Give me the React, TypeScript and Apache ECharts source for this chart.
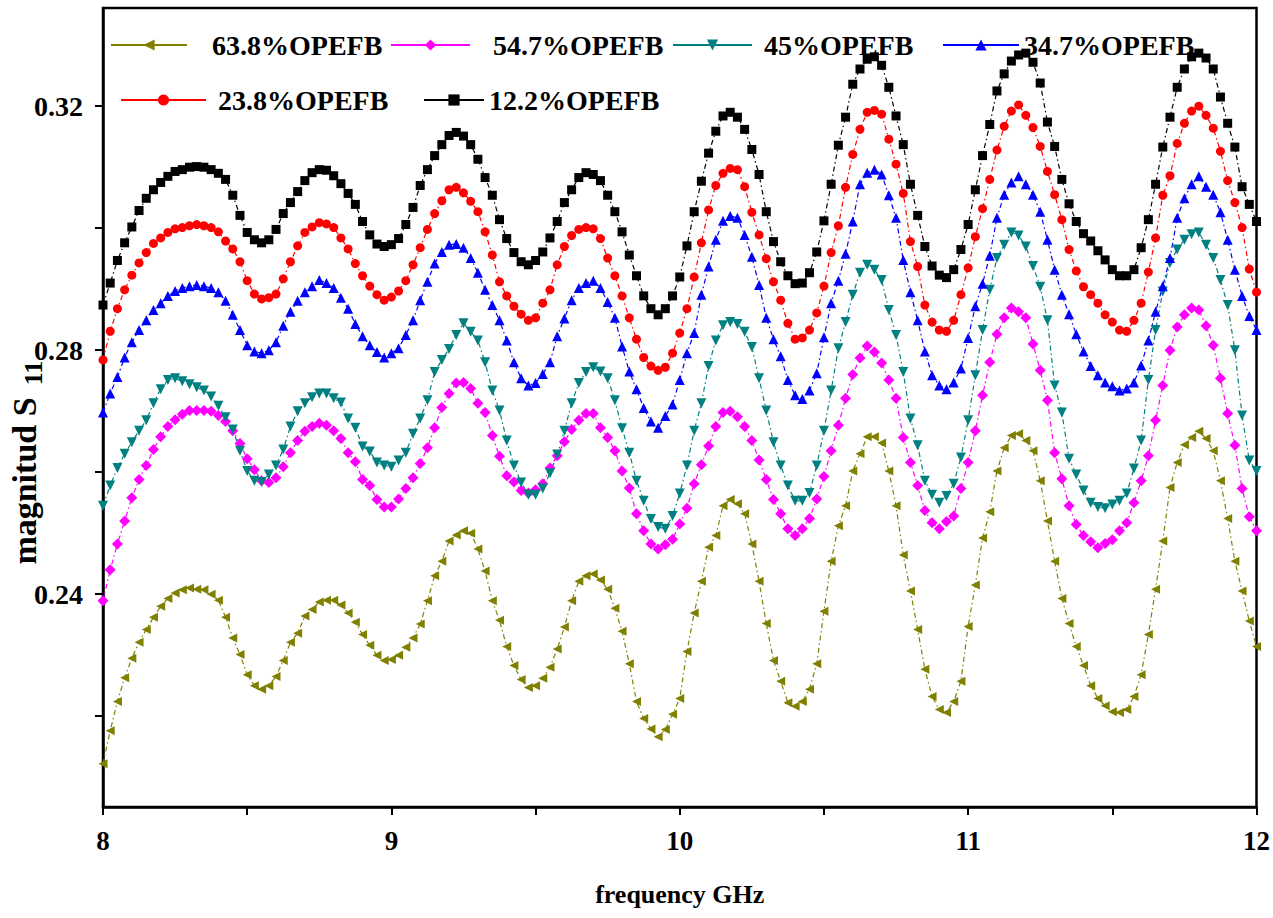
import React, { useEffect, useRef } from "react";
import * as echarts from "echarts";

// frequency grid (GHz), 8 to 12 in 0.025 steps
const freq = Array.from({ length: 161 }, (_, i) => Math.round((8 + i * 0.025) * 1000) / 1000);

const names = ["63.8%OPEFB", "54.7%OPEFB", "45%OPEFB", "34.7%OPEFB", "23.8%OPEFB", "12.2%OPEFB"];

// each row: values at f, f+0.025 for f = 8.00, 8.05, ...
const s638 = [
  0.2122, 0.2176, 0.2224, 0.2263, 0.2295, 0.2321, 0.2342, 0.2362, 0.2380, 0.2393,
  0.2402, 0.2407, 0.2410, 0.2408, 0.2407, 0.2400, 0.2390, 0.2362, 0.2328, 0.2301,
  0.2268, 0.2250, 0.2244, 0.2250, 0.2265, 0.2291, 0.2321, 0.2336, 0.2364, 0.2375,
  0.2387, 0.2390, 0.2390, 0.2382, 0.2369, 0.2354, 0.2334, 0.2316, 0.2300, 0.2291,
  0.2293, 0.2300, 0.2313, 0.2328, 0.2351, 0.2389, 0.2430, 0.2454, 0.2487, 0.2497,
  0.2504, 0.2500, 0.2474, 0.2438, 0.2389, 0.2357, 0.2314, 0.2283, 0.2260, 0.2247,
  0.2250, 0.2262, 0.2280, 0.2310, 0.2346, 0.2389, 0.2421, 0.2430, 0.2433, 0.2423,
  0.2408, 0.2377, 0.2339, 0.2286, 0.2224, 0.2196, 0.2179, 0.2166, 0.2178, 0.2203,
  0.2229, 0.2306, 0.2369, 0.2421, 0.2477, 0.2496, 0.2545, 0.2555, 0.2548, 0.2532,
  0.2482, 0.2421, 0.2352, 0.2291, 0.2257, 0.2222, 0.2216, 0.2224, 0.2244, 0.2286,
  0.2372, 0.2454, 0.2512, 0.2545, 0.2602, 0.2630, 0.2658, 0.2658, 0.2648, 0.2602,
  0.2545, 0.2464, 0.2405, 0.2342, 0.2277, 0.2232, 0.2211, 0.2206, 0.2224, 0.2257,
  0.2347, 0.2415, 0.2492, 0.2535, 0.2602, 0.2640, 0.2660, 0.2663, 0.2652, 0.2635,
  0.2586, 0.2520, 0.2454, 0.2393, 0.2352, 0.2314, 0.2283, 0.2250, 0.2229, 0.2217,
  0.2207, 0.2206, 0.2211, 0.2232, 0.2268, 0.2334, 0.2408, 0.2487, 0.2575, 0.2616,
  0.2645, 0.2657, 0.2667, 0.2655, 0.2635, 0.2586, 0.2524, 0.2454, 0.2405, 0.2356,
  0.2314,
];

const s547 = [
  0.2389, 0.2440, 0.2482, 0.2520, 0.2558, 0.2588, 0.2611, 0.2637, 0.2658, 0.2675,
  0.2686, 0.2695, 0.2701, 0.2701, 0.2701, 0.2700, 0.2693, 0.2683, 0.2668, 0.2647,
  0.2622, 0.2604, 0.2586, 0.2583, 0.2591, 0.2609, 0.2632, 0.2652, 0.2667, 0.2675,
  0.2680, 0.2677, 0.2668, 0.2655, 0.2632, 0.2617, 0.2588, 0.2578, 0.2555, 0.2543,
  0.2543, 0.2556, 0.2573, 0.2591, 0.2614, 0.2640, 0.2673, 0.2706, 0.2729, 0.2746,
  0.2747, 0.2737, 0.2713, 0.2698, 0.2660, 0.2626, 0.2594, 0.2584, 0.2570, 0.2566,
  0.2571, 0.2581, 0.2607, 0.2627, 0.2650, 0.2670, 0.2685, 0.2696, 0.2696, 0.2673,
  0.2657, 0.2635, 0.2602, 0.2574, 0.2532, 0.2504, 0.2482, 0.2474, 0.2481, 0.2490,
  0.2515, 0.2541, 0.2581, 0.2612, 0.2643, 0.2675, 0.2698, 0.2700, 0.2691, 0.2675,
  0.2652, 0.2620, 0.2588, 0.2555, 0.2532, 0.2507, 0.2496, 0.2507, 0.2524, 0.2556,
  0.2593, 0.2635, 0.2677, 0.2721, 0.2760, 0.2787, 0.2807, 0.2797, 0.2779, 0.2751,
  0.2721, 0.2657, 0.2616, 0.2578, 0.2537, 0.2517, 0.2507, 0.2519, 0.2528, 0.2573,
  0.2616, 0.2668, 0.2726, 0.2780, 0.2826, 0.2853, 0.2869, 0.2863, 0.2853, 0.2810,
  0.2767, 0.2718, 0.2632, 0.2589, 0.2545, 0.2514, 0.2496, 0.2486, 0.2476, 0.2483,
  0.2489, 0.2504, 0.2517, 0.2550, 0.2586, 0.2627, 0.2685, 0.2742, 0.2800, 0.2838,
  0.2858, 0.2869, 0.2866, 0.2840, 0.2808, 0.2754, 0.2696, 0.2644, 0.2573, 0.2527,
  0.2504,
];

const s45 = [
  0.2545, 0.2578, 0.2607, 0.2630, 0.2649, 0.2668, 0.2685, 0.2713, 0.2736, 0.2751,
  0.2754, 0.2749, 0.2744, 0.2739, 0.2734, 0.2724, 0.2709, 0.2690, 0.2670, 0.2635,
  0.2602, 0.2586, 0.2584, 0.2596, 0.2611, 0.2637, 0.2675, 0.2700, 0.2713, 0.2723,
  0.2729, 0.2729, 0.2721, 0.2714, 0.2688, 0.2673, 0.2642, 0.2634, 0.2616, 0.2611,
  0.2609, 0.2619, 0.2632, 0.2663, 0.2688, 0.2718, 0.2764, 0.2784, 0.2802, 0.2825,
  0.2844, 0.2830, 0.2816, 0.2780, 0.2734, 0.2701, 0.2652, 0.2611, 0.2583, 0.2563,
  0.2563, 0.2573, 0.2598, 0.2629, 0.2668, 0.2713, 0.2746, 0.2764, 0.2772, 0.2765,
  0.2754, 0.2718, 0.2672, 0.2632, 0.2586, 0.2553, 0.2523, 0.2510, 0.2507, 0.2528,
  0.2565, 0.2611, 0.2668, 0.2713, 0.2774, 0.2816, 0.2841, 0.2846, 0.2843, 0.2830,
  0.2805, 0.2754, 0.2701, 0.2649, 0.2611, 0.2578, 0.2553, 0.2553, 0.2566, 0.2611,
  0.2668, 0.2734, 0.2803, 0.2846, 0.2891, 0.2927, 0.2940, 0.2932, 0.2915, 0.2866,
  0.2825, 0.2764, 0.2688, 0.2644, 0.2586, 0.2563, 0.2550, 0.2561, 0.2581, 0.2624,
  0.2685, 0.2759, 0.2833, 0.2899, 0.2951, 0.2973, 0.2993, 0.2988, 0.2970, 0.2938,
  0.2904, 0.2849, 0.2742, 0.2698, 0.2622, 0.2596, 0.2570, 0.2550, 0.2543, 0.2541,
  0.2547, 0.2553, 0.2565, 0.2606, 0.2652, 0.2751, 0.2833, 0.2896, 0.2943, 0.2965,
  0.2981, 0.2990, 0.2993, 0.2973, 0.2951, 0.2915, 0.2874, 0.2800, 0.2693, 0.2619,
  0.2602,
];

const s347 = [
  0.2698, 0.2729, 0.2756, 0.2788, 0.2813, 0.2833, 0.2849, 0.2866, 0.2877, 0.2889,
  0.2897, 0.2902, 0.2905, 0.2907, 0.2905, 0.2902, 0.2895, 0.2881, 0.2858, 0.2833,
  0.2808, 0.2798, 0.2795, 0.2800, 0.2813, 0.2840, 0.2863, 0.2881, 0.2895, 0.2905,
  0.2915, 0.2910, 0.2902, 0.2886, 0.2868, 0.2843, 0.2823, 0.2808, 0.2797, 0.2788,
  0.2795, 0.2803, 0.2825, 0.2849, 0.2882, 0.2912, 0.2942, 0.2961, 0.2973, 0.2974,
  0.2968, 0.2951, 0.2927, 0.2899, 0.2874, 0.2849, 0.2816, 0.2780, 0.2754, 0.2742,
  0.2746, 0.2761, 0.2780, 0.2823, 0.2852, 0.2882, 0.2902, 0.2910, 0.2914, 0.2902,
  0.2879, 0.2853, 0.2806, 0.2765, 0.2736, 0.2705, 0.2683, 0.2673, 0.2692, 0.2711,
  0.2751, 0.2795, 0.2828, 0.2891, 0.2937, 0.2981, 0.3012, 0.3020, 0.3017, 0.2989,
  0.2953, 0.2907, 0.2853, 0.2818, 0.2790, 0.2751, 0.2726, 0.2720, 0.2734, 0.2762,
  0.2821, 0.2877, 0.2914, 0.2958, 0.3011, 0.3072, 0.3091, 0.3096, 0.3088, 0.3054,
  0.3017, 0.2948, 0.2895, 0.2849, 0.2798, 0.2759, 0.2742, 0.2736, 0.2747, 0.2770,
  0.2820, 0.2872, 0.2909, 0.2955, 0.3017, 0.3055, 0.3075, 0.3085, 0.3072, 0.3055,
  0.3027, 0.2981, 0.2932, 0.2891, 0.2859, 0.2826, 0.2798, 0.2774, 0.2759, 0.2747,
  0.2741, 0.2734, 0.2737, 0.2747, 0.2775, 0.2816, 0.2863, 0.2905, 0.2951, 0.3017,
  0.3049, 0.3072, 0.3085, 0.3068, 0.3055, 0.3026, 0.2981, 0.2932, 0.2889, 0.2856,
  0.2833,
];

const s238 = [
  0.2784, 0.2831, 0.2868, 0.2899, 0.2923, 0.2943, 0.2960, 0.2975, 0.2984, 0.2993,
  0.2999, 0.3001, 0.3004, 0.3006, 0.3004, 0.3001, 0.2994, 0.2979, 0.2966, 0.2945,
  0.2914, 0.2892, 0.2884, 0.2886, 0.2892, 0.2917, 0.2945, 0.2971, 0.2993, 0.3002,
  0.3009, 0.3007, 0.3001, 0.2984, 0.2966, 0.2942, 0.2922, 0.2905, 0.2891, 0.2882,
  0.2887, 0.2897, 0.2914, 0.2940, 0.2968, 0.2998, 0.3024, 0.3045, 0.3063, 0.3067,
  0.3058, 0.3044, 0.3027, 0.2994, 0.2956, 0.2912, 0.2889, 0.2872, 0.2859, 0.2849,
  0.2853, 0.2877, 0.2899, 0.2940, 0.2970, 0.2988, 0.2998, 0.3001, 0.2999, 0.2983,
  0.2951, 0.2922, 0.2889, 0.2853, 0.2818, 0.2788, 0.2774, 0.2767, 0.2772, 0.2795,
  0.2828, 0.2868, 0.2920, 0.2976, 0.3030, 0.3070, 0.3090, 0.3098, 0.3096, 0.3068,
  0.3026, 0.2989, 0.2950, 0.2912, 0.2882, 0.2844, 0.2818, 0.2820, 0.2833, 0.2861,
  0.2905, 0.2960, 0.3004, 0.3067, 0.3121, 0.3162, 0.3190, 0.3193, 0.3187, 0.3146,
  0.3105, 0.3057, 0.2978, 0.2937, 0.2874, 0.2846, 0.2833, 0.2831, 0.2849, 0.2891,
  0.2935, 0.2986, 0.3032, 0.3080, 0.3128, 0.3167, 0.3192, 0.3202, 0.3185, 0.3165,
  0.3134, 0.3093, 0.3055, 0.3014, 0.2965, 0.2930, 0.2904, 0.2891, 0.2877, 0.2858,
  0.2846, 0.2833, 0.2831, 0.2849, 0.2877, 0.2928, 0.2984, 0.3054, 0.3086, 0.3139,
  0.3172, 0.3192, 0.3200, 0.3185, 0.3164, 0.3126, 0.3078, 0.3042, 0.3001, 0.2933,
  0.2895,
];

const s122 = [
  0.2874, 0.2910, 0.2947, 0.2976, 0.3002, 0.3029, 0.3049, 0.3063, 0.3075, 0.3085,
  0.3093, 0.3096, 0.3100, 0.3101, 0.3100, 0.3096, 0.3090, 0.3080, 0.3054, 0.3021,
  0.2993, 0.2981, 0.2976, 0.2981, 0.2998, 0.3024, 0.3042, 0.3060, 0.3078, 0.3091,
  0.3096, 0.3095, 0.3086, 0.3073, 0.3057, 0.3039, 0.3011, 0.2989, 0.2974, 0.2970,
  0.2973, 0.2983, 0.3006, 0.3034, 0.3070, 0.3096, 0.3119, 0.3137, 0.3152, 0.3157,
  0.3151, 0.3137, 0.3113, 0.3083, 0.3054, 0.3014, 0.2983, 0.2960, 0.2945, 0.2940,
  0.2947, 0.2961, 0.2984, 0.3011, 0.3042, 0.3063, 0.3083, 0.3091, 0.3088, 0.3078,
  0.3054, 0.3027, 0.2994, 0.2956, 0.2922, 0.2889, 0.2868, 0.2858, 0.2868, 0.2889,
  0.2920, 0.2971, 0.3027, 0.3077, 0.3123, 0.3159, 0.3184, 0.3190, 0.3182, 0.3162,
  0.3129, 0.3088, 0.3027, 0.2978, 0.2945, 0.2922, 0.2909, 0.2910, 0.2927, 0.2961,
  0.3012, 0.3072, 0.3136, 0.3182, 0.3236, 0.3261, 0.3277, 0.3281, 0.3267, 0.3231,
  0.3184, 0.3137, 0.3072, 0.3021, 0.2970, 0.2938, 0.2923, 0.2919, 0.2932, 0.2965,
  0.3006, 0.3063, 0.3119, 0.3170, 0.3225, 0.3253, 0.3274, 0.3284, 0.3287, 0.3272,
  0.3238, 0.3174, 0.3134, 0.3080, 0.3040, 0.3011, 0.2991, 0.2979, 0.2963, 0.2948,
  0.2932, 0.2922, 0.2922, 0.2932, 0.2968, 0.3014, 0.3072, 0.3133, 0.3182, 0.3231,
  0.3261, 0.3281, 0.3287, 0.3279, 0.3261, 0.3215, 0.3172, 0.3133, 0.3068, 0.3039,
  0.3011,
];

const xLabelValues = [8, 9, 10, 11, 12];
const xTickValues = [8, 8.5, 9, 9.5, 10, 10.5, 11, 11.5, 12];
const yLabelValues = [0.24, 0.28, 0.32];
const yTickValues = [0.22, 0.24, 0.26, 0.28, 0.3, 0.32];

const FONT = '"Liberation Serif", "Times New Roman", serif';

export default function App() {
  const ref = useRef<HTMLDivElement>(null);

  useEffect(() => {
    if (!ref.current) return;
    const chart = echarts.init(ref.current, null, { renderer: "svg" });

    const mk = (name: string, vals: number[], color: string, symbol: string, size: number, rotate: number) => ({
      type: "line",
      name,
      data: freq.map((f, i) => [f, vals[i]]),
      symbol,
      symbolSize: size,
      symbolRotate: rotate,
      showSymbol: true,
      showAllSymbol: true,
      itemStyle: { color },
      lineStyle: { color, width: 1.2, type: [5, 3, 1.5, 3] },
      emphasis: { disabled: true },
      z: 2,
    });

    const mkLegend = (name: string, left: number, top: number, w: number, pad: number) => ({
      data: [name],
      left,
      top,
      padding: 0,
      itemWidth: w,
      itemHeight: 14,
      selectedMode: false,
      textStyle: {
        fontFamily: FONT,
        fontWeight: "bold",
        fontSize: 28,
        color: "#000",
        padding: [0, 0, 0, pad],
      },
      lineStyle: { type: "solid", width: 2 },
    });

    chart.setOption({
      animation: false,
      backgroundColor: "#fff",
      textStyle: { fontFamily: FONT },
      grid: {
        left: 103,
        right: 16,
        top: 8,
        bottom: 111,
        show: true,
        borderColor: "#000",
        borderWidth: 2.5,
        containLabel: false,
      },
      legend: [
        mkLegend(names[0], 110, 31, 76, 20),
        mkLegend(names[1], 390, 31, 79, 18),
        mkLegend(names[2], 672, 31, 79, 7),
        mkLegend(names[3], 942, 31, 76, 0),
        mkLegend(names[4], 120, 86, 85, 7),
        mkLegend(names[5], 423, 86, 60, 0),
      ],
      xAxis: {
        type: "value",
        min: 8,
        max: 12,
        name: "frequency GHz",
        nameLocation: "middle",
        nameGap: 74,
        nameTextStyle: { fontFamily: FONT, fontWeight: "bold", fontSize: 26, color: "#000" },
        axisLine: { show: true, onZero: false, lineStyle: { color: "#000", width: 2.5 } },
        axisTick: { show: true, inside: false, length: 8, customValues: xTickValues, lineStyle: { color: "#000", width: 2 } },
        axisLabel: {
          customValues: xLabelValues,
          fontFamily: FONT,
          fontWeight: "bold",
          fontSize: 27,
          color: "#000",
          margin: 20,
          formatter: (v: number) => "{t|" + String(Math.round(v)) + "}",
          rich: { t: { fontFamily: FONT, fontWeight: "bold", fontSize: 27, color: "#000" } },
        },
        splitLine: { show: false },
      },
      yAxis: {
        type: "value",
        min: 0.2051,
        max: 0.3361,
        axisLine: { show: true, onZero: false, lineStyle: { color: "#000", width: 2.5 } },
        axisTick: { show: true, inside: false, length: 8, customValues: yTickValues, lineStyle: { color: "#000", width: 2 } },
        axisLabel: {
          customValues: yLabelValues,
          fontFamily: FONT,
          fontWeight: "bold",
          fontSize: 28,
          color: "#000",
          margin: 20,
          formatter: (v: number) => "{t|" + v.toFixed(2) + "}",
          rich: { t: { fontFamily: FONT, fontWeight: "bold", fontSize: 28, color: "#000" } },
        },
        splitLine: { show: false },
      },
      graphic: [
        {
          type: "text",
          x: 24,
          y: 481,
          rotation: Math.PI / 2,
          style: {
            text: "magnitud S",
            fontFamily: FONT,
            fontWeight: "bold",
            fontSize: 34,
            fill: "#000",
            textAlign: "center",
            textVerticalAlign: "middle",
          },
        },
        {
          type: "text",
          x: 33,
          y: 373,
          rotation: Math.PI / 2,
          style: {
            text: "11",
            fontFamily: FONT,
            fontWeight: "bold",
            fontSize: 26,
            fill: "#000",
            textAlign: "center",
            textVerticalAlign: "middle",
          },
        },
      ],
      series: [
        mk(names[0], s638, "#808000", "triangle", 9, 90),
        mk(names[1], s547, "#FF00FF", "diamond", 11, 0),
        mk(names[2], s45, "#008080", "triangle", 10, 180),
        mk(names[3], s347, "#0000FF", "triangle", 10, 0),
        mk(names[4], s238, "#FF0000", "circle", 9, 0),
        mk(names[5], s122, "#000000", "rect", 9, 0),
      ],
    });

    return () => chart.dispose();
  }, []);

  return (
    <div
      ref={ref}
      style={{ position: "fixed", left: 0, top: 0, width: 1273, height: 918, background: "#fff" }}
    />
  );
}
